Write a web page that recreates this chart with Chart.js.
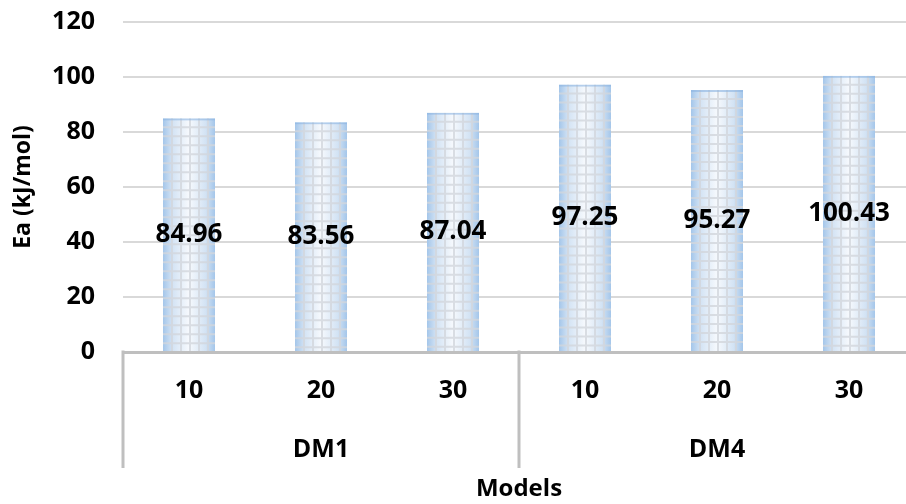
<!DOCTYPE html>
<html>
<head>
<meta charset="utf-8">
<script src="https://cdn.jsdelivr.net/npm/chart.js@4.4.1/dist/chart.umd.min.js"></script>
<style>
    html, body { margin: 0; padding: 0; background: #fff; overflow: hidden; }
    #wrap { width: 916px; height: 504px; }
</style>
</head>
<body>
<div id="wrap"><canvas id="eaChart" width="916" height="504"></canvas></div>
<script>
// Chart data
const tickLabels = ["10", "20", "30", "10", "20", "30"];
const groups = ["DM1", "DM4"];
const groupSize = 3;
const eaValues = [84.96, 83.56, 87.04, 97.25, 95.27, 100.43];
const yTicks = [0, 20, 40, 60, 80, 100, 120];

const FONT = "'Open Sans', 'Liberation Sans', sans-serif";
const LINE_GRAY = "#bfbfbf";

// Bars: blue edge gradient + light grid pattern, value label in the middle
const barStyle = {
    id: "barStyle",
    afterDatasetsDraw(chart) {
        const ctx = chart.ctx;
        const meta = chart.getDatasetMeta(0);
        meta.data.forEach((bar, i) => {
            const left = bar.x - bar.width / 2;
            const right = bar.x + bar.width / 2;
            const top = bar.y;
            const bottom = bar.base;

            ctx.save();
            ctx.beginPath();
            ctx.rect(left, top, right - left, bottom - top);
            ctx.clip();

            const grad = ctx.createLinearGradient(left, 0, right, 0);
            grad.addColorStop(0, "#a4c6ea");
            grad.addColorStop(0.18, "#d3e3f4");
            grad.addColorStop(0.5, "#f6f9fd");
            grad.addColorStop(0.82, "#d3e3f4");
            grad.addColorStop(1, "#a4c6ea");
            ctx.fillStyle = grad;
            ctx.fillRect(left, top, right - left, bottom - top);

            // grid pattern
            ctx.strokeStyle = "rgba(210, 214, 220, 0.8)";
            ctx.lineWidth = 2;
            ctx.beginPath();
            for (let gx = left + 9; gx < right; gx += 9) {
                ctx.moveTo(gx, top);
                ctx.lineTo(gx, bottom);
            }
            for (let gy = top + 9; gy < bottom; gy += 9) {
                ctx.moveTo(left, gy);
                ctx.lineTo(right, gy);
            }
            ctx.stroke();

            // slightly darker top edge
            ctx.fillStyle = "rgba(140, 180, 225, 0.6)";
            ctx.fillRect(left, top, right - left, 2);
            ctx.restore();

            // value label
            ctx.save();
            ctx.font = "bold 26px " + FONT;
            ctx.fillStyle = "#000";
            ctx.textAlign = "center";
            ctx.textBaseline = "middle";
            ctx.fillText(eaValues[i].toFixed(2), bar.x, (top + bottom) / 2);
            ctx.restore();
        });
    }
};

// Two-level category axis: separators and group labels
const groupAxis = {
    id: "groupAxis",
    afterDraw(chart) {
        const ctx = chart.ctx;
        const xs = chart.scales.x;
        const area = chart.chartArea;
        const lineBottom = area.bottom + 116;

        const cuts = [area.left];
        for (let g = 1; g < groups.length; g++) {
            const a = xs.getPixelForValue(g * groupSize - 1);
            const b = xs.getPixelForValue(g * groupSize);
            cuts.push((a + b) / 2);
        }
        cuts.push(area.right);

        ctx.save();
        ctx.strokeStyle = LINE_GRAY;
        ctx.lineWidth = 3;
        ctx.beginPath();
        cuts.forEach(cx => {
            ctx.moveTo(cx, area.bottom - 1.5);
            ctx.lineTo(cx, lineBottom);
        });
        ctx.stroke();

        ctx.font = "bold 25px " + FONT;
        ctx.fillStyle = "#000";
        ctx.textAlign = "center";
        ctx.textBaseline = "middle";
        groups.forEach((name, g) => {
            const first = xs.getPixelForValue(g * groupSize);
            const last = xs.getPixelForValue(g * groupSize + groupSize - 1);
            ctx.fillText(name, (first + last) / 2, area.bottom + 98);
        });
        ctx.restore();
    }
};

new Chart(document.getElementById("eaChart"), {
    type: "bar",
    data: {
        labels: tickLabels,
        datasets: [{
            label: "Ea (kJ/mol)",
            data: eaValues,
            backgroundColor: "rgba(0,0,0,0)",
            borderWidth: 0,
            categoryPercentage: 1,
            barPercentage: 0.394
        }]
    },
    options: {
        responsive: false,
        animation: false,
        layout: { padding: { top: 22, right: 1, bottom: 0, left: 0 } },
        plugins: {
            legend: { display: false },
            tooltip: { enabled: false }
        },
        scales: {
            x: {
                grid: { display: false, drawTicks: false },
                border: { display: true, color: LINE_GRAY, width: 3 },
                ticks: {
                    padding: 24,
                    color: "#000",
                    font: { family: FONT, size: 25, weight: "bold" },
                    maxRotation: 0
                },
                title: {
                    display: true,
                    text: "Models",
                    color: "#000",
                    font: { family: FONT, size: 24, weight: "bold" },
                    padding: { top: 0, bottom: 0 }
                },
                afterFit(scale) { scale.height = 152; }
            },
            y: {
                min: yTicks[0],
                max: yTicks[yTicks.length - 1],
                afterBuildTicks(scale) {
                    scale.ticks = yTicks.map(v => ({ value: v }));
                },
                grid: {
                    drawTicks: false,
                    lineWidth: 2,
                    color: ctx => ctx.tick && ctx.tick.value === 0 ? "rgba(0,0,0,0)" : "#d9d9d9"
                },
                border: { display: false },
                ticks: {
                    padding: 28,
                    color: "#000",
                    font: { family: FONT, size: 25, weight: "bold" }
                },
                title: {
                    display: true,
                    text: "Ea (kJ/mol)",
                    color: "#000",
                    font: { family: FONT, size: 23, weight: "bold" },
                    padding: { top: 10, bottom: 0 }
                },
                afterFit(scale) {
                    scale.width = 123;
                    // the top label fits in the layout padding
                    scale.paddingTop = 0;
                    scale.paddingBottom = 0;
                }
            }
        }
    },
    plugins: [barStyle, groupAxis]
});
</script>
</body>
</html>
